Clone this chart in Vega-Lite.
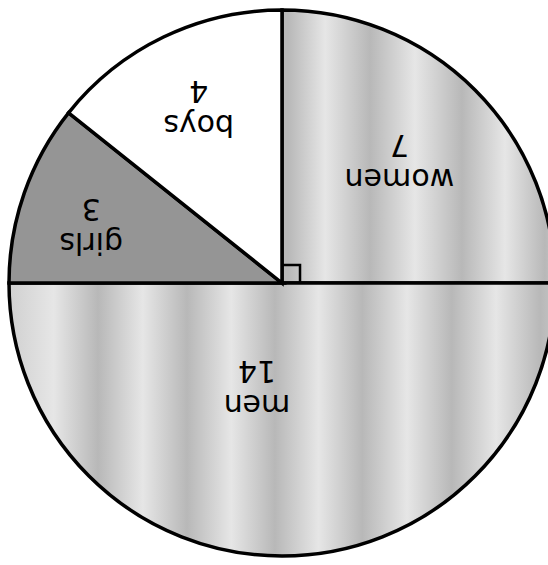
{
  "$schema": "https://vega.github.io/schema/vega-lite/v6.json",
  "width": 548,
  "height": 565,
  "autosize": {"type": "none"},
  "padding": 0,
  "background": "white",
  "config": {"view": {"stroke": null}},
  "data": {
    "values": [
      {"category": "women", "count": 7, "order": 1, "label": "women\n7"},
      {"category": "men", "count": 14, "order": 2, "label": "men\n14"},
      {"category": "girls", "count": 3, "order": 3, "label": "girls\n3"},
      {"category": "boys", "count": 4, "order": 4, "label": "boys\n4"}
    ]
  },
  "layer": [
    {
      "mark": {"type": "arc", "radius": 273, "stroke": "black", "strokeWidth": 3.5},
      "encoding": {
        "x": {"datum": 0, "type": "quantitative", "scale": {"domain": [-1.03297, 0.97436], "nice": false, "zero": false}, "axis": null},
        "y": {"datum": 0, "type": "quantitative", "scale": {"domain": [-1.03297, 1.03663], "nice": false, "zero": false}, "axis": null},
        "theta": {"field": "count", "type": "quantitative", "stack": true},
        "order": {"field": "order", "type": "quantitative"},
        "fill": {
          "condition": [
            {"test": "datum.category === 'women'", "value": {"gradient": "linear", "x1": 0, "x2": 1, "y1": 0, "y2": 0, "stops": [
              {"offset": 0, "color": "#b8b8b8"}, {"offset": 0.022, "color": "#b8b8b8"}, {"offset": 0.158, "color": "#e6e6e6"},
              {"offset": 0.322, "color": "#b8b8b8"}, {"offset": 0.487, "color": "#e6e6e6"}, {"offset": 0.659, "color": "#b8b8b8"},
              {"offset": 0.817, "color": "#e6e6e6"}, {"offset": 0.963, "color": "#b8b8b8"}, {"offset": 1, "color": "#c4c4c4"}]}},
            {"test": "datum.category === 'men'", "value": {"gradient": "linear", "x1": 0, "x2": 1, "y1": 0, "y2": 0, "stops": [
              {"offset": 0, "color": "#d0d0d0"}, {"offset": 0.082, "color": "#e6e6e6"}, {"offset": 0.163, "color": "#b8b8b8"},
              {"offset": 0.245, "color": "#e6e6e6"}, {"offset": 0.326, "color": "#b8b8b8"}, {"offset": 0.407, "color": "#e6e6e6"},
              {"offset": 0.487, "color": "#b8b8b8"}, {"offset": 0.567, "color": "#e6e6e6"}, {"offset": 0.647, "color": "#b8b8b8"},
              {"offset": 0.729, "color": "#e6e6e6"}, {"offset": 0.811, "color": "#b8b8b8"}, {"offset": 0.892, "color": "#e6e6e6"},
              {"offset": 0.973, "color": "#b8b8b8"}, {"offset": 1, "color": "#c4c4c4"}]}},
            {"test": "datum.category === 'girls'", "value": "#959595"}
          ],
          "value": "#ffffff"
        }
      }
    },
    {
      "mark": {"type": "text", "radius": 166, "dy": -12, "angle": 180, "font": "DejaVu Sans", "fontSize": 30, "lineBreak": "\n", "lineHeight": 34, "align": "center", "baseline": "middle", "color": "black"},
      "encoding": {
        "x": {"datum": 0, "type": "quantitative", "scale": {"domain": [-1.03297, 0.97436], "nice": false, "zero": false}, "axis": null},
        "y": {"datum": 0, "type": "quantitative", "scale": {"domain": [-1.03297, 1.03663], "nice": false, "zero": false}, "axis": null},
        "theta": {"field": "count", "type": "quantitative", "stack": true},
        "order": {"field": "order", "type": "quantitative"},
        "text": {"condition": {"test": "datum.category === 'women'", "field": "label"}, "value": ""}
      }
    },
    {
      "mark": {"type": "text", "radius": 106, "dx": 25, "dy": -15, "angle": 180, "font": "DejaVu Sans", "fontSize": 30, "lineBreak": "\n", "lineHeight": 34, "align": "center", "baseline": "middle", "color": "black"},
      "encoding": {
        "x": {"datum": 0, "type": "quantitative", "scale": {"domain": [-1.03297, 0.97436], "nice": false, "zero": false}, "axis": null},
        "y": {"datum": 0, "type": "quantitative", "scale": {"domain": [-1.03297, 1.03663], "nice": false, "zero": false}, "axis": null},
        "theta": {"field": "count", "type": "quantitative", "stack": true},
        "order": {"field": "order", "type": "quantitative"},
        "text": {"condition": {"test": "datum.category === 'men'", "field": "label"}, "value": ""}
      }
    },
    {
      "mark": {"type": "text", "radius": 200, "dx": 2, "dy": -25, "angle": 180, "font": "DejaVu Sans", "fontSize": 30, "lineBreak": "\n", "lineHeight": 34, "align": "center", "baseline": "middle", "color": "black"},
      "encoding": {
        "x": {"datum": 0, "type": "quantitative", "scale": {"domain": [-1.03297, 0.97436], "nice": false, "zero": false}, "axis": null},
        "y": {"datum": 0, "type": "quantitative", "scale": {"domain": [-1.03297, 1.03663], "nice": false, "zero": false}, "axis": null},
        "theta": {"field": "count", "type": "quantitative", "stack": true},
        "order": {"field": "order", "type": "quantitative"},
        "text": {"condition": {"test": "datum.category === 'girls'", "field": "label"}, "value": ""}
      }
    },
    {
      "mark": {"type": "text", "radius": 192, "dy": -14, "angle": 180, "font": "DejaVu Sans", "fontSize": 30, "lineBreak": "\n", "lineHeight": 34, "align": "center", "baseline": "middle", "color": "black"},
      "encoding": {
        "x": {"datum": 0, "type": "quantitative", "scale": {"domain": [-1.03297, 0.97436], "nice": false, "zero": false}, "axis": null},
        "y": {"datum": 0, "type": "quantitative", "scale": {"domain": [-1.03297, 1.03663], "nice": false, "zero": false}, "axis": null},
        "theta": {"field": "count", "type": "quantitative", "stack": true},
        "order": {"field": "order", "type": "quantitative"},
        "text": {"condition": {"test": "datum.category === 'boys'", "field": "label"}, "value": ""}
      }
    },
    {
      "data": {"values": [
        {"px": 0, "py": 0.066, "step": 1},
        {"px": 0.066, "py": 0.066, "step": 2},
        {"px": 0.066, "py": 0, "step": 3}
      ]},
      "mark": {"type": "line", "stroke": "black", "strokeWidth": 2.5},
      "encoding": {
        "x": {"field": "px", "type": "quantitative", "scale": {"domain": [-1.03297, 0.97436], "nice": false, "zero": false}, "axis": null},
        "y": {"field": "py", "type": "quantitative", "scale": {"domain": [-1.03297, 1.03663], "nice": false, "zero": false}, "axis": null},
        "order": {"field": "step", "type": "quantitative"}
      }
    }
  ]
}
